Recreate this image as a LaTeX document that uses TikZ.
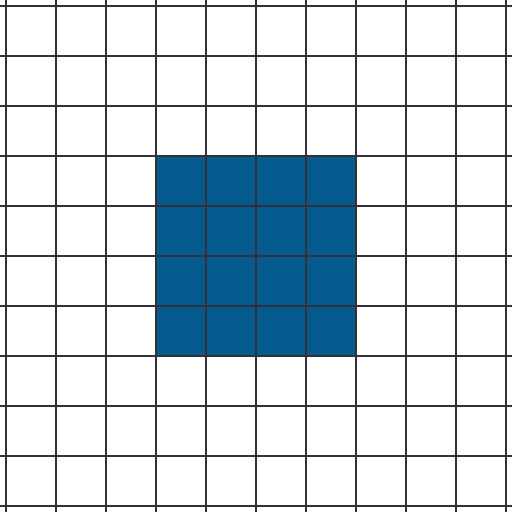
\documentclass[tikz,border=0pt]{standalone}
\definecolor{cellblue}{RGB}{4,90,141}
\definecolor{gridgray}{RGB}{50,50,50}
\tikzset{gridline/.style={draw=gridgray,line width=0.6pt}}
\begin{document}
\begin{tikzpicture}
\useasboundingbox[fill=white] (-0.12,-0.12) rectangle (10.12,10.12);
\fill[cellblue] (3,3) rectangle (7,7);
\foreach \i in {0,...,10}{
  \draw[gridline] (\i,-0.12) -- (\i,10.12);
  \draw[gridline] (-0.12,\i) -- (10.12,\i);
}
\end{tikzpicture}
\end{document}
